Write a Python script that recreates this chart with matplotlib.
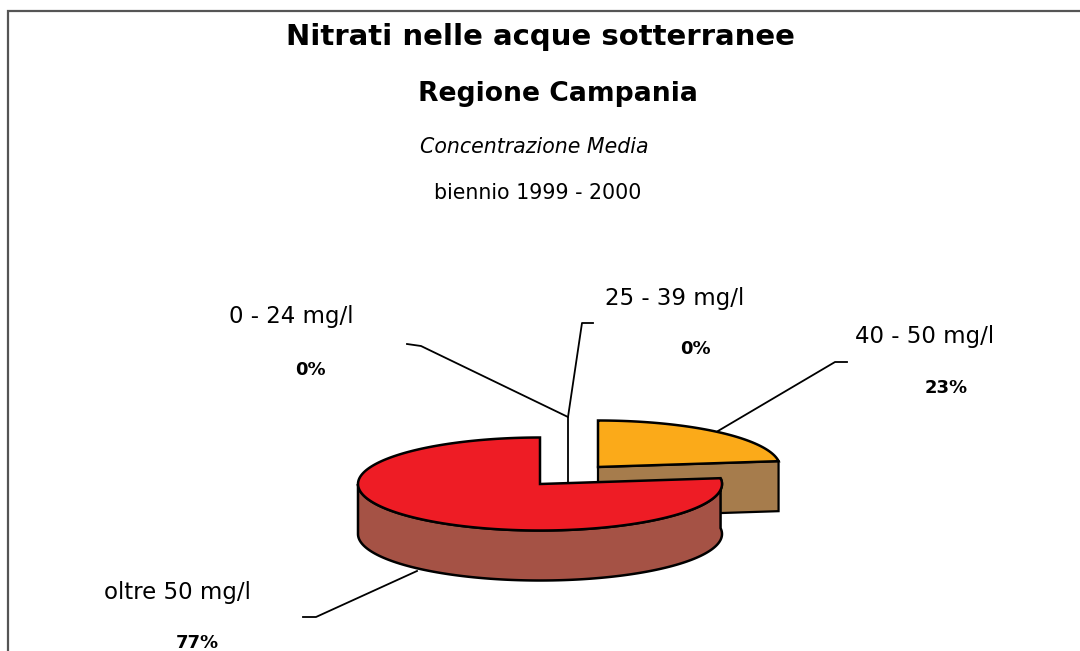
import numpy as np
import matplotlib
matplotlib.use("Agg")
import matplotlib.pyplot as plt
from matplotlib.patches import Polygon

# data
categories = ["0 - 24 mg/l", "25 - 39 mg/l", "40 - 50 mg/l", "oltre 50 mg/l"]
shares = [0, 0, 23, 77]
share_labels = ["0%", "0%", "23%", "77%"]
top_colors = ["#FFFFFF", "#FFFFFF", "#FBAA19", "#EE1C25"]
side_colors = ["#FFFFFF", "#FFFFFF", "#A67C4C", "#A55245"]

plt.rcParams["font.family"] = ["DejaVu Sans"]

fig = plt.figure(figsize=(10.8, 6.51), dpi=100)
ax = fig.add_axes([0, 0, 1, 1])
ax.set_xlim(0, 1080)
ax.set_ylim(651, 0)
ax.axis("off")

# frame of the original page
ax.plot([8, 8, 1080], [651, 11, 11], color="#555555", lw=1.6, solid_joinstyle="miter")

# titles
ax.text(540, 37, "Nitrati nelle acque sotterranee", ha="center", va="center", fontsize=21, fontweight="bold")
ax.text(558, 94, "Regione Campania", ha="center", va="center", fontsize=19.2, fontweight="bold")
ax.text(534, 147, "Concentrazione Media", ha="center", va="center", fontsize=14.8, style="italic")
ax.text(538, 193, "biennio 1999 - 2000", ha="center", va="center", fontsize=14.8)


def ring(cx, cy, start, stop, depth=0):
    # points of the ellipse between two angles, degrees
    t = np.radians(np.linspace(start, stop, 200))
    return np.column_stack([cx + 182 * np.cos(t), cy - 46.5 * np.sin(t) + depth])


# centres of the exploded slices
centers = {2: (598, 467), 3: (540, 484)}
depth = 50

# slices run clockwise from 12 o'clock
angle = 90.0
for i, share in enumerate(shares):
    sweep = 360.0 * share / sum(shares)
    start, stop = angle, angle - sweep
    angle = stop
    if share == 0:
        continue
    cx, cy = centers[i]
    top = ring(cx, cy, start, stop)

    # side walls first, the gold slice shows its cut face too
    if i == 2:
        cut = [top[-1], top[-1] + [0, depth], [cx, cy + depth], [cx, cy]]
        ax.add_patch(Polygon(cut, facecolor=side_colors[i], edgecolor="black", lw=1.6, zorder=2))
    else:
        front = ring(cx, cy, start, -180)
        wall = np.vstack([front, front[::-1] + [0, depth]])
        ax.add_patch(Polygon(wall, facecolor=side_colors[i], edgecolor="black", lw=1.8, zorder=4))

    outline = np.vstack([[cx, cy], top])
    ax.add_patch(Polygon(outline, facecolor=top_colors[i], edgecolor="black", lw=1.8, zorder=3 if i == 2 else 5))

# leader lines
ax.plot([407, 421, 568, 568], [344, 346, 417, 484], color="black", lw=1.3, zorder=1)
ax.plot([593, 582, 568], [323, 323, 417], color="black", lw=1.3, zorder=1)
ax.plot([718, 835, 847], [431, 362, 362], color="black", lw=1.3, zorder=1)
ax.plot([417, 316, 303], [571, 617, 617], color="black", lw=1.3, zorder=1)

# labels, one per category
name_pos = [(291, 317), (675, 298), (925, 337), (177, 593)]
pct_pos = [(310, 370), (695, 349), (946, 388), (197, 643)]
for i in range(len(categories)):
    ax.text(name_pos[i][0], name_pos[i][1], categories[i], ha="center", va="center", fontsize=16.5)
    ax.text(pct_pos[i][0], pct_pos[i][1], share_labels[i], ha="center", va="center", fontsize=13, fontweight="bold")

fig.savefig("out.png", dpi=100)
